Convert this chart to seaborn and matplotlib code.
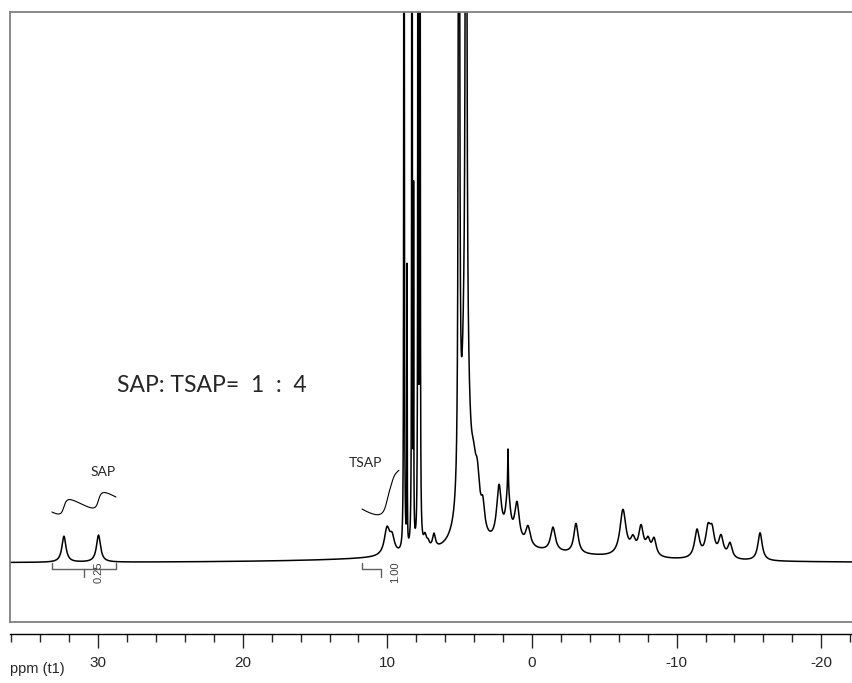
import numpy as np
import pandas as pd
import matplotlib
matplotlib.use("Agg")
import matplotlib.pyplot as plt
import seaborn as sns
from matplotlib.ticker import MultipleLocator

# ---- data: peak list (ppm, height, half-width) ----
peak_ppm = [32.37, 29.98,
            10.03, 9.68,
            8.85, 8.64, 8.30, 8.19, 7.88, 7.75,
            7.40, 7.19, 6.78,
            5.05, 4.56, 4.60,
            4.05, 3.78, 3.40,
            2.28, 1.66, 1.66, 1.04, 0.28,
            -1.45, -3.04,
            -6.29, -6.98, -7.54, -8.02, -8.44,
            -11.41, -12.17, -12.45, -13.07, -13.69,
            -15.77,
            2.0]
peak_height = [26, 27,
               26, 16,
               2500, 280, 2500, 340, 2500, 2500,
               12, 6, 14,
               2000, 2000, 215,
               35, 45, 25,
               55, 42, 47, 40, 20,
               24, 30,
               46, 14, 28, 14, 17,
               28, 26, 24, 21, 15,
               28,
               12]
peak_hwhm = [0.17, 0.17,
             0.22, 0.20,
             0.012, 0.012, 0.012, 0.012, 0.012, 0.012,
             0.12, 0.12, 0.12,
             0.03, 0.03, 0.30,
             0.20, 0.20, 0.15,
             0.20, 0.025, 0.20, 0.20, 0.20,
             0.20, 0.18,
             0.25, 0.20, 0.20, 0.18, 0.18,
             0.20, 0.20, 0.20, 0.20, 0.18,
             0.18,
             7.0]

integral_names = ["SAP", "TSAP"]
integral_values = ["0.25", "1.00"]
integral_start = [33.2, 11.76]
integral_end = [28.77, 9.13]
ratio_text = "SAP: TSAP=  1  :  4"
x_label = "ppm (t1)"

# ---- build spectrum ----
ppm = np.linspace(36.2, -22.3, 16000)
spec = np.zeros_like(ppm)
for c, h, w in zip(peak_ppm, peak_height, peak_hwhm):
    spec += h * w ** 2 / ((ppm - c) ** 2 + w ** 2)
df = pd.DataFrame({"ppm": ppm, "intensity": spec})
dppm = abs(ppm[1] - ppm[0])

sns.set_style("white")
plt.rcParams["font.family"] = ["Liberation Sans Narrow", "Liberation Sans", "DejaVu Sans"]

W, H = 852, 683
fig = plt.figure(figsize=(W / 100, H / 100), dpi=100)
ax = fig.add_axes([10 / W, (H - 622) / H, 842 / W, 610 / H])
sns.lineplot(data=df, x="ppm", y="intensity", ax=ax, color="black", lw=1.1,
             estimator=None, sort=False)
ax.set_xlim(36.1, -22.13)
ax.set_ylim(-59, 551)
ax.set_xticks([]); ax.set_yticks([])
ax.set_xlabel(""); ax.set_ylabel("")
for s in ["left", "top", "bottom"]:
    ax.spines[s].set_color("#808080")
    ax.spines[s].set_linewidth(1.3)
ax.spines["right"].set_visible(False)

# ---- integral curves ----
int_offset = [51, 54]
int_scale = [2.08, 2.2]
int_drift = [10.5, 20.0]
int_last = [28.77, 9.2]
for i in range(2):
    hi, lo = integral_start[i], int_last[i]
    m = (ppm <= hi) & (ppm >= lo)
    cum = np.cumsum(spec[m]) * dppm
    curve = int_offset[i] + int_scale[i] * cum - int_drift[i] * (hi - ppm[m])
    idf = pd.DataFrame({"ppm": ppm[m], "integral": curve})
    sns.lineplot(data=idf, x="ppm", y="integral", ax=ax, color="black", lw=0.8,
                 estimator=None, sort=False)

# ---- integral brackets ----
bc = "#606060"
for i in range(2):
    a, b = integral_start[i], integral_end[i]
    c = (a + b) / 2
    right = b if i == 0 else c
    ax.plot([a, right], [-6, -6], color=bc, lw=1.0)
    ax.plot([a, a], [-6, 0], color=bc, lw=1.0)
    if i == 0:
        ax.plot([b, b], [-6, 0], color=bc, lw=1.0)
    ax.plot([c, c], [-6, -14], color=bc, lw=1.0)
ax.text(30.0, -9, integral_values[0], rotation=90, ha="center", va="center",
        fontsize=8, color="#404040")
ax.text(9.47, -9, integral_values[1], rotation=90, ha="center", va="center",
        fontsize=8, color="#404040")

# ---- labels ----
tf = ["Lato", "DejaVu Sans"]
ax.text(29.67, 91, integral_names[0], ha="center", va="center", fontsize=10, family=tf)
ax.text(11.55, 100, integral_names[1], ha="center", va="center", fontsize=10, family=tf)
ax.text(28.7, 177, ratio_text, ha="left", va="center", fontsize=16.5, family=tf)

# ---- ppm scale ----
ax2 = fig.add_axes([10 / W, (H - 634) / H, 842 / W, 0.0001])
ax2.set_xlim(36.1, -22.13)
ax2.set_yticks([])
for s in ["left", "top", "right"]:
    ax2.spines[s].set_visible(False)
ax2.spines["bottom"].set_color("black")
ax2.spines["bottom"].set_linewidth(1.0)
ax2.xaxis.set_major_locator(MultipleLocator(10))
ax2.xaxis.set_minor_locator(MultipleLocator(2))
ax2.tick_params(axis="x", which="major", direction="out", length=10, width=1,
                labelsize=11, pad=6, bottom=True)
ax2.tick_params(axis="x", which="minor", direction="out", length=6, width=1, bottom=True)
ax2.set_xticklabels([f"{int(t)}" for t in ax2.get_xticks()])
fig.text(10 / W, 1 - 669 / H, x_label, ha="left", va="center", fontsize=10.5)

fig.savefig("out.png", dpi=100)
